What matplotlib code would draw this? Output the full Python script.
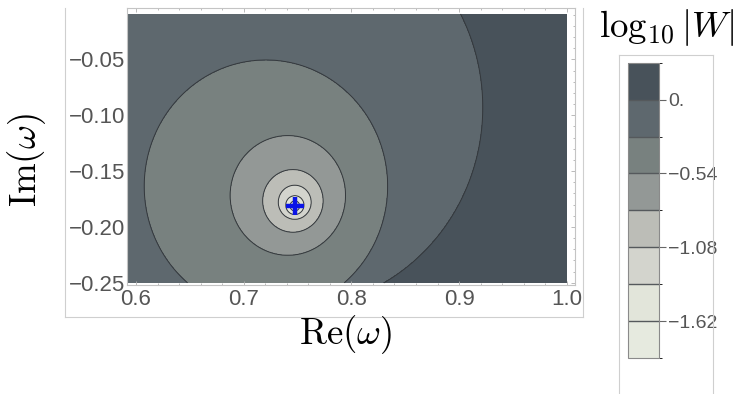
import numpy as np
import matplotlib
matplotlib.use("Agg")
import matplotlib.pyplot as plt
from matplotlib.colors import ListedColormap, BoundaryNorm
from matplotlib.lines import Line2D
import matplotlib.colorbar as mcolorbar

plt.rcParams['font.family'] = ['Liberation Sans', 'DejaVu Sans']
plt.rcParams['mathtext.fontset'] = 'cm'

# contour levels of log10|W| and the circles they trace
levels = np.array([-1.89, -1.62, -1.35, -1.08, -0.81, -0.54, -0.27, 0.0, 0.3])
circ_x = np.array([0.7475, 0.7475, 0.7475, 0.7474, 0.7457, 0.741, 0.7206, 0.742, 0.72])
circ_y = np.array([-0.1814, -0.1812, -0.1805, -0.1779, -0.1767, -0.1718, -0.1636, -0.093, -0.05])
circ_r = np.array([0.0, 0.0045, 0.0084, 0.0152, 0.028, 0.0535, 0.113, 0.18, 0.32])
# the outer contours bulge down-left, out of view: second circle per level
circ2_x = np.array([0.7475, 0.7475, 0.7475, 0.7474, 0.7457, 0.741, 0.7206, 0.69, 0.72])
circ2_y = np.array([-0.1814, -0.1812, -0.1805, -0.1779, -0.1767, -0.1718, -0.1636, -0.16, -0.05])
circ2_r = np.array([0.0, 0.0045, 0.0084, 0.0152, 0.028, 0.0535, 0.113, 0.16, 0.32])

# zero of W
zero_re = 0.7475
zero_im = -0.1814

# colour bands, lowest first
band_colors = ["#e6eadf", "#e2e5da", "#d3d4cd", "#bcbdb7", "#939896",
               "#78817f", "#5e686e", "#48525a"]
cb_bounds = [-1.89, -1.62, -1.35, -1.08, -0.81, -0.54, -0.27, 0.0, 0.27]
cb_ticks = [0.0, -0.54, -1.08, -1.62]
cb_ticklabels = ["0.", "\u22120.54", "\u22121.08", "\u22121.62"]

re_min, re_max = 0.592, 1.0
im_min, im_max = -0.25, -0.0094

# build the field: for each point find the level whose contour passes through it
re = np.linspace(re_min, re_max, 700)
im = np.linspace(im_min, im_max, 450)
X, Y = np.meshgrid(re, im)
lo = np.full(X.shape, levels[0])
hi = np.full(X.shape, levels[-1])
for _ in range(40):
    mid = 0.5 * (lo + hi)
    g1 = np.hypot(X - np.interp(mid, levels, circ_x),
                  Y - np.interp(mid, levels, circ_y)) - np.interp(mid, levels, circ_r)
    g2 = np.hypot(X - np.interp(mid, levels, circ2_x),
                  Y - np.interp(mid, levels, circ2_y)) - np.interp(mid, levels, circ2_r)
    inside = np.minimum(g1, g2) <= 0
    hi = np.where(inside, mid, hi)
    lo = np.where(inside, lo, mid)
Z = 0.5 * (lo + hi)

fig = plt.figure(figsize=(7.38, 3.94), dpi=100)
W, H = 738.0, 394.0
ax = fig.add_axes([127 / W, 1 - 285 / H, 448 / W, 277 / H])

draw_bounds = [-5] + cb_bounds[1:-1] + [5]
ax.contourf(X, Y, Z, levels=draw_bounds, colors=band_colors, zorder=1)
ax.contour(X, Y, Z, levels=cb_bounds[1:-1], colors="#34383c", linewidths=0.7,
           linestyles="solid", zorder=2)
ax.plot([zero_re], [zero_im], marker="+", color="#0a14e6", markersize=13,
        markeredgewidth=3.2, zorder=5)

ax.set_xlim(0.5916, 1.0077)
ax.set_ylim(-0.252, -0.004)
ax.set_xticks([0.6, 0.7, 0.8, 0.9, 1.0])
ax.set_xticklabels(["0.6", "0.7", "0.8", "0.9", "1.0"])
ax.set_yticks([-0.25, -0.2, -0.15, -0.1, -0.05])
ax.set_yticklabels(["\u22120.25", "\u22120.20", "\u22120.15", "\u22120.10", "\u22120.05"])
ax.set_xticks(np.arange(0.6, 1.001, 0.02), minor=True)
ax.set_yticks(np.arange(-0.25, -0.004, 0.01), minor=True)
for s in ax.spines.values():
    s.set_color("#c4c4c4")
    s.set_linewidth(0.8)
ax.tick_params(which="both", direction="in", colors="#b0b0b0", top=True, right=True,
               labelcolor="#555555", labelsize=16, width=0.6)
ax.tick_params(which="major", length=3)
ax.tick_params(which="minor", length=1.6)
ax.tick_params(axis="y", which="both", left=False, pad=1)
ax.tick_params(axis="x", pad=3)

fig.text(346 / W, 1 - 335 / H, r"$\mathrm{Re}(\omega)$", fontsize=26.5, ha="center", va="center")
fig.text(27 / W, 1 - 160 / H, r"$\mathrm{Im}(\omega)$", fontsize=26.5, ha="center", va="center",
         rotation=90)
fig.text(666 / W, 1 - 28 / H, r"$\log_{10}|W|$", fontsize=26.5, ha="center", va="center")

# frame lines around plot and legend
gray = "#cfcfcf"
for xs, ys in [((65, 65), (8, 317)), ((65, 583), (317, 317)), ((583, 583), (8, 317)),
               ((619, 619), (55, 394)), ((619, 713), (55, 55)), ((713, 713), (55, 394))]:
    fig.add_artist(Line2D([x / W for x in xs], [1 - y / H for y in ys],
                          color=gray, linewidth=0.8))

cax = fig.add_axes([627.5 / W, 1 - 358 / H, 31 / W, (358 - 62.7) / H])
cb = mcolorbar.ColorbarBase(cax, cmap=ListedColormap(band_colors),
                            norm=BoundaryNorm(cb_bounds, len(band_colors)),
                            boundaries=cb_bounds, ticks=cb_ticks, drawedges=True)
cb.set_ticklabels(cb_ticklabels)
cb.outline.set_edgecolor("#8a8a8a")
cb.outline.set_linewidth(0.8)
cb.dividers.set_color("#55595c")
cb.dividers.set_linewidth(1.0)
cax.tick_params(length=5, width=0.8, colors="#666666", labelcolor="#555555",
                labelsize=14, pad=2)

fig.savefig("out.png", dpi=100)
